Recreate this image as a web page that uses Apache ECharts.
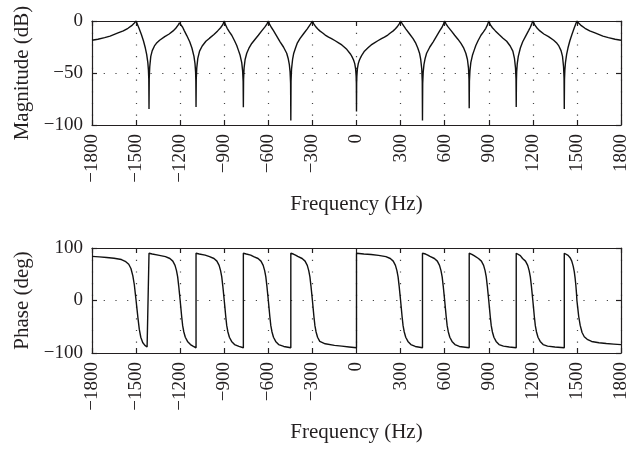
<!DOCTYPE html>
<html>
<head>
<meta charset="utf-8">
<script src="https://cdn.jsdelivr.net/npm/echarts@6/dist/echarts.min.js"></script>
<style>
html,body{margin:0;padding:0;background:#fff;}
#chart{width:638px;height:449px;}
</style>
</head>
<body>
<div id="chart"></div>
<script>
// Tick values
var freqTicks = [-1800, -1500, -1200, -900, -600, -300, 0, 300, 600, 900, 1200, 1500, 1800];
var magTicks = [-100, -50, 0];
var phaseTicks = [-100, 0, 100];

// Magnitude response (Hz, dB)
var magF = [
  -1800, -1760, -1714, -1677, -1623, -1587, -1555, -1530, -1515, -1500,
  -1490, -1480, -1464, -1450, -1437, -1428, -1420, -1416, -1413.5, -1412,
  -1410.5, -1407, -1400, -1390, -1375, -1362, -1340, -1305, -1275, -1248, -1230, -1214, -1205, -1200,
  -1192, -1183, -1173, -1155, -1135, -1120, -1106, -1099, -1095, -1093.3, -1092,
  -1090.5, -1087, -1080, -1068, -1050, -1025, -1000, -970, -945, -925, -910, -900,
  -892, -880, -865, -849, -830, -815, -804, -792, -781, -775, -771.5, -770,
  -768.5, -765, -758, -747, -730, -713, -690, -668, -645, -623, -610, -600,
  -592, -580, -566, -545, -520, -497, -475, -465, -457, -452, -448.5, -447,
  -445.5, -442, -435, -427, -415, -404, -385, -359, -335, -313, -300,
  -292, -280, -265, -250, -230, -213, -190, -170, -145, -122, -100, -80, -65, -54, -40, -30, -20, -12, -6, -2.5, -1, 0,
  1, 2.5, 6, 12, 20, 30, 40, 54, 65, 80, 100, 122, 145, 170, 190, 213, 230, 250, 265, 280, 292, 300,
  313, 335, 359, 385, 404, 417, 429, 437, 444, 447.5, 449,
  450.5, 454, 459, 467, 477, 499, 522, 547, 568, 582, 592, 600,
  610, 623, 645, 668, 690, 711, 728, 744, 755, 762, 765.5, 767,
  768.5, 772, 778, 789, 801, 812, 827, 847, 864, 880, 892, 900,
  910, 925, 945, 970, 997, 1022, 1046, 1064, 1075, 1082, 1085.5, 1087,
  1088.3, 1090, 1094, 1101, 1115, 1131, 1153, 1172, 1183, 1192, 1200,
  1205, 1214, 1230, 1248, 1275, 1307, 1342, 1364, 1377, 1392, 1402, 1409, 1412.5, 1414,
  1415.5, 1418, 1422, 1430, 1439, 1452, 1466, 1481, 1490, 1500,
  1515, 1530, 1555, 1587, 1623, 1677, 1714, 1760, 1800
];
var magDb = [
  -18.5, -17.5, -16, -14.5, -11.5, -9.5, -7, -4.5, -2.5, 0,
  -3.5, -7, -13, -19, -26, -32, -40, -47, -56, -84.7,
  -55, -44, -34, -28.5, -24, -21.5, -18.5, -15, -12.5, -9.5, -7, -4, -1.8, 0,
  -3, -6, -9, -14, -20, -26, -34, -41, -49, -58, -82.8,
  -56, -45, -36, -29, -24, -19.5, -16.5, -13, -9.5, -6.5, -3.5, 0,
  -3.5, -7, -10.5, -13.7, -19, -23.5, -28, -33, -40, -48, -58, -83,
  -56, -45, -37, -31, -25.5, -21.6, -17.5, -13.7, -9.5, -5.7, -3, 0,
  -3, -6, -9, -14, -20, -25, -31, -36, -42, -49, -60, -95.6,
  -58, -46, -37, -31, -26, -21.6, -17, -12, -7.5, -3, 0,
  -2.5, -5, -7.5, -9.5, -11.5, -13.5, -15.5, -17, -19, -21, -23, -25.5, -27.5, -29, -32, -34.5, -37.5, -41, -46, -53, -60, -87,
  -60, -53, -46, -41, -37.5, -34.5, -32, -29, -27.5, -25.5, -23, -21, -19, -17, -15.5, -13.5, -11.5, -9.5, -7.5, -5, -2.5, 0,
  -3, -7.5, -12, -17, -21.6, -26, -31, -37, -46, -58, -95.6,
  -60, -49, -42, -36, -31, -25, -20, -14, -9, -6, -3, 0,
  -3, -5.7, -9.5, -13.7, -17.5, -21.6, -25.5, -31, -37, -45, -56, -83.8,
  -58, -48, -40, -33, -28, -23.5, -19, -13.7, -10.5, -7, -3.5, 0,
  -3.5, -6.5, -9.5, -13, -16.5, -19.5, -24, -29, -36, -45, -56, -82.8,
  -58, -49, -41, -34, -26, -20, -14, -9, -6, -3, 0,
  -1.8, -4, -7, -9.5, -12.5, -15, -18.5, -21.5, -24, -28.5, -34, -44, -55, -84.7,
  -56, -47, -40, -32, -26, -19, -13, -7, -3.5, 0,
  -2.5, -4.5, -7, -9.5, -11.5, -14.5, -16, -17.5, -18.5
];

// Phase response (Hz, deg)
var phF = [
  -1800, -1750, -1700, -1650, -1600, -1570, -1550, -1535, -1522, -1512, -1506, -1500,
  -1494, -1487, -1478, -1468, -1455, -1440, -1425, -1412,
  -1412, -1390, -1350, -1300, -1270, -1250, -1235, -1225, -1217, -1210, -1205, -1200,
  -1195, -1190, -1183, -1175, -1165, -1150, -1130, -1110, -1092,
  -1092, -1070, -1030, -1000, -970, -950, -935, -925, -917, -910, -905, -900,
  -895, -890, -883, -875, -865, -850, -830, -800, -770,
  -770, -750, -720, -700, -670, -650, -635, -625, -617, -610, -605, -600,
  -595, -590, -583, -575, -565, -550, -530, -495, -447,
  -447, -430, -415, -400, -370, -350, -335, -325, -317, -310, -305, -300,
  -295, -290, -283, -275, -265, -250, -213, -150, -100, -50, 0,
  0, 50, 100, 150, 200, 230, 250, 265, 275, 283, 290, 295, 300,
  305, 310, 317, 325, 335, 350, 370, 400, 449,
  449, 470, 485, 500, 530, 550, 565, 575, 583, 590, 595, 600,
  605, 610, 617, 625, 635, 650, 670, 700, 767,
  767, 785, 800, 830, 850, 865, 875, 883, 890, 895, 900,
  905, 910, 917, 925, 935, 950, 970, 1000, 1040, 1087,
  1087, 1100, 1115, 1130, 1150, 1165, 1175, 1183, 1190, 1195, 1200,
  1205, 1210, 1217, 1225, 1235, 1250, 1270, 1300, 1350, 1414,
  1414, 1425, 1440, 1455, 1465, 1475, 1482, 1488, 1493, 1497, 1500,
  1506, 1512, 1522, 1535, 1550, 1570, 1600, 1650, 1700, 1750, 1800
];
var phDeg = [
  84, 83, 82, 80.5, 78, 74, 69, 61, 47, 30, 15, 0,
  -16, -34, -55, -70, -80, -85.5, -88.5, -90,
  90, 88.5, 86.5, 83.5, 80, 75, 67, 57, 45, 28, 14, 0,
  -15, -30, -48, -60, -70, -78, -84, -87.5, -90,
  90, 88.5, 86.5, 83.5, 80, 75, 67, 57, 45, 28, 14, 0,
  -15, -30, -48, -60, -70, -78, -84, -87.5, -90,
  90, 88.5, 86.5, 83.5, 80, 75, 67, 57, 45, 28, 14, 0,
  -15, -30, -48, -60, -70, -78, -84, -87.5, -90,
  90, 88.5, 86.5, 84, 80, 75, 67, 57, 45, 28, 14, 0,
  -15, -30, -48, -60, -70, -78, -82.5, -85.5, -87, -88.5, -90,
  90, 88.5, 87.5, 86, 83.5, 80, 75, 67, 57, 45, 28, 14, 0,
  -15, -30, -48, -60, -70, -78, -84, -87.5, -90,
  90, 88.5, 86.5, 84, 80, 75, 67, 57, 45, 28, 14, 0,
  -15, -30, -48, -60, -70, -78, -84, -87.5, -90,
  90, 88, 85.5, 80, 75, 67, 57, 45, 28, 14, 0,
  -15, -30, -48, -60, -70, -78, -84, -87, -88.5, -90,
  90, 88, 85.5, 80, 75, 67, 57, 45, 28, 14, 0,
  -15, -30, -48, -60, -70, -78, -84, -87, -88.5, -90,
  90, 88.5, 86, 81, 75, 65, 55, 42, 28, 14, 0,
  -15, -30, -47, -61, -69, -74, -78, -80.5, -82, -83, -84
];

function zip(a, b) { return a.map(function (v, i) { return [v, b[i]]; }); }
function minus(v) { return String(v).replace('-', '\u2212'); }

var FONT = 'Liberation Serif';
var INK = '#231f20';
var gridLine = { show: true, lineStyle: { color: '#444', width: 1.2, type: [1.2, 10.5] } };
var tick = { show: true, inside: true, length: 5, lineStyle: { color: INK, width: 1.2 } };
var axLine = { show: true, onZero: false, lineStyle: { color: INK, width: 1.2 } };

function xMain(gi) {
  return {
    type: 'value', gridIndex: gi, position: 'bottom',
    min: freqTicks[0], max: freqTicks[freqTicks.length - 1], interval: 300,
    axisLine: axLine, axisTick: tick, splitLine: gridLine,
    axisLabel: { rotate: 90, margin: 9, fontFamily: FONT, fontSize: 19, color: INK, formatter: minus },
    name: 'Frequency (Hz)', nameLocation: 'middle', nameGap: 69,
    nameTextStyle: { fontFamily: FONT, fontSize: 21, color: INK }
  };
}
function xTop(gi) {
  return {
    type: 'value', gridIndex: gi, position: 'top',
    min: freqTicks[0], max: freqTicks[freqTicks.length - 1], interval: 300,
    axisLine: axLine, axisTick: tick, splitLine: { show: false }, axisLabel: { show: false }
  };
}
function yMain(gi, ticks, name) {
  return {
    type: 'value', gridIndex: gi, position: 'left',
    min: ticks[0], max: ticks[ticks.length - 1], interval: ticks[1] - ticks[0],
    axisLine: axLine, axisTick: tick, splitLine: gridLine,
    axisLabel: { margin: 9, fontFamily: FONT, fontSize: 19, color: INK, formatter: minus },
    name: name, nameLocation: 'middle', nameGap: 57, nameRotate: 90,
    nameTextStyle: { fontFamily: FONT, fontSize: 21, color: INK }
  };
}
function yRight(gi, ticks) {
  return {
    type: 'value', gridIndex: gi, position: 'right',
    min: ticks[0], max: ticks[ticks.length - 1], interval: ticks[1] - ticks[0],
    axisLine: axLine, axisTick: tick, splitLine: { show: false }, axisLabel: { show: false }
  };
}

var chart = echarts.init(document.getElementById('chart'), null, { renderer: 'canvas' });
chart.setOption({
  animation: false,
  backgroundColor: '#fff',
  grid: [
    { left: 92, right: 17, top: 21, height: 104 },
    { left: 92, right: 17, top: 248, height: 105 }
  ],
  xAxis: [xMain(0), xTop(0), xMain(1), xTop(1)],
  yAxis: [yMain(0, magTicks, 'Magnitude (dB)'), yRight(0, magTicks), yMain(1, phaseTicks, 'Phase (deg)'), yRight(1, phaseTicks)],
  series: [
    { type: 'line', xAxisIndex: 0, yAxisIndex: 0, data: zip(magF, magDb), showSymbol: false,
      lineStyle: { color: '#111', width: 1.4 }, z: 5 },
    { type: 'line', xAxisIndex: 2, yAxisIndex: 2, data: zip(phF, phDeg), showSymbol: false,
      lineStyle: { color: '#111', width: 1.4 }, z: 5 }
  ]
});
</script>
</body>
</html>
